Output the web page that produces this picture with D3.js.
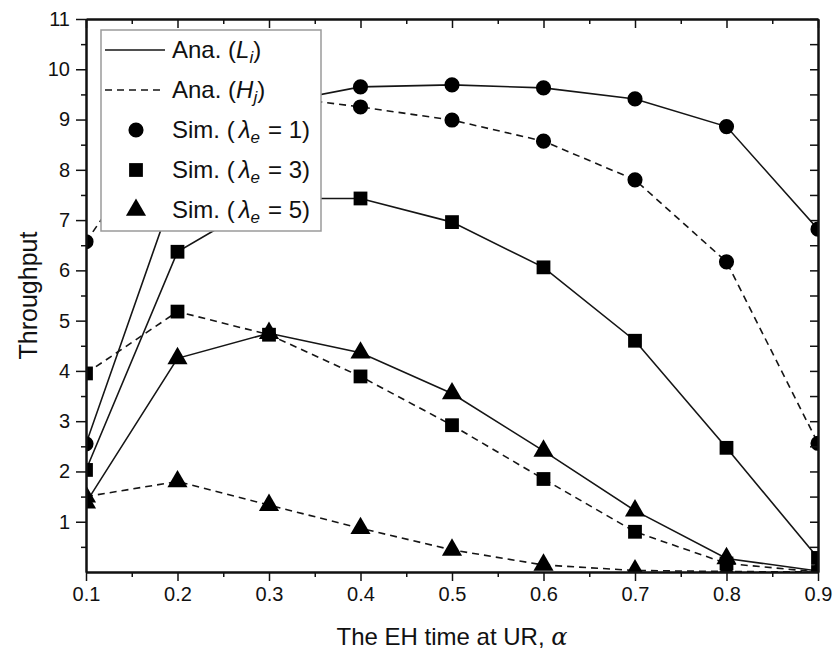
<!DOCTYPE html>
<html>
<head>
<meta charset="utf-8">
<script src="https://cdn.jsdelivr.net/npm/d3@7"></script>
<style>
  body { margin: 0; background: #fff; }
  text { font-family: "Liberation Sans", Arial, sans-serif; fill: #111; }
</style>
</head>
<body>
<div id="chart"></div>
<script>
// x values (EH time alpha)
var alpha = [0.1, 0.2, 0.3, 0.4, 0.5, 0.6, 0.7, 0.8, 0.9];
// analytical curves, L_i (solid) and H_j (dashed), for lambda_e = 1, 3, 5
var L1 = [2.55, 7.75, 9.30, 9.65, 9.69, 9.63, 9.41, 8.86, 6.82];
var H1 = [6.57, 9.20, 9.48, 9.25, 8.99, 8.57, 7.80, 6.17, 2.56];
var L3 = [2.03, 6.37, 7.43, 7.43, 6.96, 6.06, 4.60, 2.47, 0.28];
var H3 = [3.95, 5.18, 4.72, 3.89, 2.92, 1.85, 0.80, 0.17, 0.00];
var L5 = [1.38, 4.25, 4.75, 4.36, 3.55, 2.41, 1.22, 0.27, 0.02];
var H5 = [1.50, 1.80, 1.33, 0.87, 0.44, 0.14, 0.03, 0.01, 0.00];
var xTicks = [0.1, 0.2, 0.3, 0.4, 0.5, 0.6, 0.7, 0.8, 0.9];
var yTicks = [1, 2, 3, 4, 5, 6, 7, 8, 9, 10, 11];

var width = 839, height = 657;
var margin = {top: 19, right: 21, bottom: 85, left: 86};
var w = width - margin.left - margin.right;
var h = height - margin.top - margin.bottom;

var series = [
  {vals: L1, dash: null, sym: d3.symbolCircle},
  {vals: H1, dash: "7,5", sym: d3.symbolCircle},
  {vals: L3, dash: null, sym: d3.symbolSquare},
  {vals: H3, dash: "7,5", sym: d3.symbolSquare},
  {vals: L5, dash: null, sym: d3.symbolTriangle},
  {vals: H5, dash: "7,5", sym: d3.symbolTriangle}
];
function sz(s) {
  if (s === d3.symbolCircle) return 180;
  if (s === d3.symbolSquare) return 190;
  return 175;
}

var svg = d3.select('#chart').append('svg')
  .attr('width', width)
  .attr('height', height);

var x = d3.scaleLinear().domain([0.1, 0.9]).range([0, w]);
var y = d3.scaleLinear().domain([0, 11]).range([h, 0]);

var g = svg.append('g').attr('transform', 'translate(' + margin.left + ',' + margin.top + ')');

g.append('clipPath').attr('id', 'clip')
  .append('rect').attr('width', w).attr('height', h);

var plot = g.append('g').attr('clip-path', 'url(#clip)');

var line = d3.line()
  .x(function(d, i) { return x(alpha[i]); })
  .y(function(d) { return y(d); });

series.forEach(function(s) {
  plot.append('path')
    .attr('d', line(s.vals))
    .attr('fill', 'none')
    .attr('stroke', '#151515')
    .attr('stroke-width', 1.6)
    .attr('stroke-dasharray', s.dash);
});
series.forEach(function(s) {
  plot.selectAll(null)
    .data(s.vals)
    .enter()
    .append('path')
      .attr('d', d3.symbol().type(s.sym).size(sz(s.sym)))
      .attr('transform', function(d, i) { return 'translate(' + x(alpha[i]) + ',' + y(d) + ')'; })
      .attr('fill', '#000');
});

// minor ticks
var xMinor = d3.range(0.15, 0.9, 0.1);
var yMinor = d3.range(0.5, 11, 1);

// bottom axis (ticks out)
g.append('g').attr('transform', 'translate(0,' + h + ')')
  .call(d3.axisBottom(x).tickValues(xTicks).tickSize(9).tickSizeOuter(0).tickPadding(6)
    .tickFormat(d3.format('.1f')));
g.append('g').attr('transform', 'translate(0,' + h + ')')
  .call(d3.axisBottom(x).tickValues(xMinor).tickSize(5).tickSizeOuter(0).tickFormat(''));
// left axis (ticks out)
g.append('g')
  .call(d3.axisLeft(y).tickValues(yTicks).tickSize(10).tickSizeOuter(0).tickPadding(6)
    .tickFormat(d3.format('d')));
g.append('g')
  .call(d3.axisLeft(y).tickValues(yMinor).tickSize(5).tickSizeOuter(0).tickFormat(''));
// top + right (ticks in)
g.append('g')
  .call(d3.axisTop(x).tickValues(xTicks).tickSize(-9).tickSizeOuter(0).tickFormat(''));
g.append('g')
  .call(d3.axisTop(x).tickValues(xMinor).tickSize(-5).tickSizeOuter(0).tickFormat(''));
g.append('g').attr('transform', 'translate(' + w + ',0)')
  .call(d3.axisRight(y).tickValues(yTicks).tickSize(-8).tickSizeOuter(0).tickFormat(''));
g.append('g').attr('transform', 'translate(' + w + ',0)')
  .call(d3.axisRight(y).tickValues(yMinor).tickSize(-8).tickSizeOuter(0).tickFormat(''));

g.selectAll('.domain').attr('stroke', '#111').attr('stroke-width', 2);
g.selectAll('.tick line').attr('stroke', '#111').attr('stroke-width', 1.5);
g.selectAll('.tick text').style('font-size', '20px').attr('fill', '#111');

// axis titles
g.append('text')
  .attr('x', w / 2)
  .attr('y', h + 73)
  .attr('text-anchor', 'middle')
  .style('font-size', '24px')
  .text('The EH time at UR, ')
  .append('tspan')
    .style('font-family', '"DejaVu Serif", serif')
    .style('font-style', 'italic')
    .text('α');

g.append('text')
  .attr('transform', 'translate(' + (-49) + ',' + (h / 2) + ') rotate(-90)')
  .attr('text-anchor', 'middle')
  .style('font-size', '25px')
  .text('Throughput');

// legend
var leg = svg.append('g').attr('transform', 'translate(101,30)');
leg.append('rect')
  .attr('width', 220).attr('height', 201)
  .attr('fill', '#fff')
  .attr('stroke', '#9a9a9a')
  .attr('stroke-width', 1.5);

var legItems = [
  {kind: 'line', dash: null, main: 'L', sub: 'i', pre: 'Ana. ('},
  {kind: 'line', dash: '7,5', main: 'H', sub: 'j', pre: 'Ana. ('},
  {kind: 'sym', sym: d3.symbolCircle, main: 'λ', sub: 'e', pre: 'Sim. (', post: '= 1)'},
  {kind: 'sym', sym: d3.symbolSquare, main: 'λ', sub: 'e', pre: 'Sim. (', post: '= 3)'},
  {kind: 'sym', sym: d3.symbolTriangle, main: 'λ', sub: 'e', pre: 'Sim. (', post: '= 5)'}
];

legItems.forEach(function(d, i) {
  var yy = 20 + i * 40;
  var row = leg.append('g').attr('transform', 'translate(0,' + yy + ')');
  if (d.kind === 'line') {
    row.append('line')
      .attr('x1', 4).attr('x2', 64).attr('y1', 0).attr('y2', 0)
      .attr('stroke', '#151515').attr('stroke-width', 1.6)
      .attr('stroke-dasharray', d.dash);
  } else {
    row.append('path')
      .attr('d', d3.symbol().type(d.sym).size(sz(d.sym)))
      .attr('transform', 'translate(35,0)')
      .attr('fill', '#000');
  }
  var t = row.append('text')
    .attr('x', 71).attr('y', 8)
    .style('font-size', '24px');
  t.append('tspan').text(d.pre);
  t.append('tspan').style('font-style', 'italic')
    .attr('dx', d.post ? 4 : 0).text(d.main);
  t.append('tspan').style('font-style', 'italic').style('font-size', '17px')
    .attr('dy', 5).text(d.sub);
  if (d.post) {
    t.append('tspan').attr('dy', -5).attr('dx', 8).text(d.post);
  } else {
    t.append('tspan').attr('dy', -5).text(')');
  }
});
</script>
</body>
</html>
